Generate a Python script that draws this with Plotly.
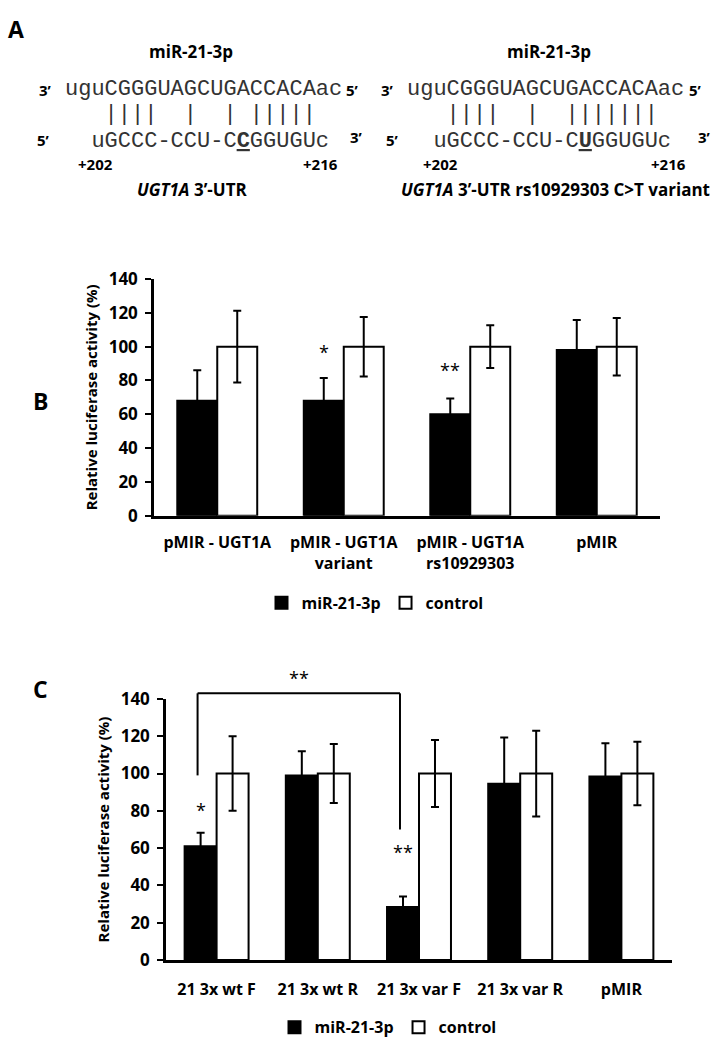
import plotly.graph_objects as go

W, H = 718, 1050

# ---------------- data ----------------
cats_B = ["pMIR - UGT1A", "pMIR - UGT1A variant", "pMIR - UGT1A rs10929303", "pMIR"]
ticks_B = ["pMIR - UGT1A", "pMIR - UGT1A<br>variant", "pMIR - UGT1A<br>rs10929303", "pMIR"]
mir_B = [68, 68, 60, 98]
mir_B_err = [18, 13.5, 9.4, 17.8]
ctl_B = [100, 100, 100, 100]
ctl_B_err = [21.2, 17.6, 12.7, 17]

cats_C = ["21 3x wt F", "21 3x wt R", "21 3x var F", "21 3x var R", "pMIR"]
mir_C = [61, 99, 28.5, 94.5, 98.4]
mir_C_err = [7.2, 13, 5.6, 24.8, 17.8]
ctl_C = [100, 100, 100, 100, 100]
ctl_C_err = [20, 15.8, 18, 23, 17]

sig_B = {1: "*", 2: "**"}          # category index -> marker text (miR bars)
sig_B_y = {1: 97, 2: 86}
sig_C = {0: "*", 2: "**"}
sig_C_y = {0: 82, 2: 59.4}
bracket_C = (0, 2)                  # compared categories
bracket_C_levels = (143, 99, 70)    # top, left foot, right foot
bracket_C_text_y = 153

y_range = [0, 140]

FONT = "Open Sans"
MONO = "Liberation Mono"
BARGAP = 0.368


def px(x):
    return x / W


def py(y):
    return 1 - y / H


fig = go.Figure()

err_style = dict(type="data", visible=True, color="black", thickness=2, width=4)

fig.add_trace(go.Bar(x=cats_B, y=mir_B, name="miR-21-3p", marker=dict(color="black", line=dict(color="black", width=2)),
                     error_y=dict(array=mir_B_err, **err_style), xaxis="x", yaxis="y", legend="legend"))
fig.add_trace(go.Bar(x=cats_B, y=ctl_B, name="control", marker=dict(color="white", line=dict(color="black", width=2)),
                     error_y=dict(array=ctl_B_err, **err_style), xaxis="x", yaxis="y", legend="legend"))
fig.add_trace(go.Bar(x=cats_C, y=mir_C, name="miR-21-3p", marker=dict(color="black", line=dict(color="black", width=2)),
                     error_y=dict(array=mir_C_err, **err_style), xaxis="x2", yaxis="y2", legend="legend2"))
fig.add_trace(go.Bar(x=cats_C, y=ctl_C, name="control", marker=dict(color="white", line=dict(color="black", width=2)),
                     error_y=dict(array=ctl_C_err, **err_style), xaxis="x2", yaxis="y2", legend="legend2"))

ytickfont = dict(family=FONT, size=17, color="black", weight="bold")
xtickfont = dict(family=FONT, size=16, color="black", weight="bold")
titlefont = dict(family=FONT, size=15, color="black", weight="bold")

yax = dict(range=y_range, tick0=0, dtick=20, showline=True, linecolor="black", linewidth=2.5,
           ticks="outside", ticklen=6, tickwidth=2, tickcolor="black", showgrid=False, zeroline=False,
           tickfont=ytickfont, ticklabelstandoff=4,
           title=dict(text="Relative luciferase activity (%)", font=titlefont, standoff=8),
           fixedrange=True)
xax = dict(type="category", showline=True, linecolor="black", linewidth=3, ticks="", showgrid=False,
           tickfont=xtickfont, fixedrange=True)

legfont = dict(family=FONT, size=16, color="black", weight="bold")

fig.update_layout(
    width=W, height=H, margin=dict(l=0, r=0, t=0, b=0),
    paper_bgcolor="white", plot_bgcolor="white",
    barmode="group", bargap=BARGAP, bargroupgap=0,
    xaxis=dict(domain=[px(154), px(660)], anchor="y", tickvals=cats_B, ticktext=ticks_B,
               ticklabelstandoff=10, **xax),
    yaxis=dict(domain=[py(515), py(273)], anchor="x", **yax),
    xaxis2=dict(domain=[px(166), px(672)], anchor="y2", ticklabelstandoff=13, **xax),
    yaxis2=dict(domain=[py(969.3), py(702.3)], anchor="x2", **yax),
    legend=dict(orientation="h", x=px(375), xanchor="center", y=py(604), yanchor="middle",
                font=legfont, itemwidth=30, tracegroupgap=0),
    legend2=dict(orientation="h", x=px(388), xanchor="center", y=py(1038), yanchor="middle",
                 font=legfont, itemwidth=30, tracegroupgap=0),
    showlegend=True,
)

# offset of the miR bar centre within a category
off = -(1 - BARGAP) / 4
ymax = y_range[1]

ann = []
star_font = dict(family=FONT, size=18, color="black")
for i, t in sig_B.items():
    ann.append(dict(x=i + off, y=sig_B_y[i], xref="x", yref="y", text=t, showarrow=False, font=star_font,
                    yanchor="middle", yshift=0))
for i, t in sig_C.items():
    ann.append(dict(x=i + off, y=sig_C_y[i], xref="x2", yref="y2", text=t, showarrow=False, font=star_font,
                    yanchor="middle", yshift=-3))

# bracket in panel C (above the axis range, so positioned in axis-domain units)
top, lf, rf = bracket_C_levels
bx0 = bracket_C[0] + off - 0.03
bx1 = bracket_C[1] + off - 0.03
ann.append(dict(x=(bx0 + bx1) / 2, y=bracket_C_text_y / ymax, xref="x2", yref="y2 domain", text="**",
                showarrow=False, font=star_font, yanchor="middle", yshift=-3))
shapes = [
    dict(type="line", xref="x2", yref="y2 domain", x0=bx0, x1=bx1, y0=top / ymax, y1=top / ymax, line=dict(color="black", width=2)),
    dict(type="line", xref="x2", yref="y2 domain", x0=bx0, x1=bx0, y0=top / ymax, y1=lf / ymax, line=dict(color="black", width=2)),
    dict(type="line", xref="x2", yref="y2 domain", x0=bx1, x1=bx1, y0=top / ymax, y1=rf / ymax, line=dict(color="black", width=2)),
]

# panel letters
letter_font = dict(family=FONT, size=23, color="black", weight="bold")
ann.append(dict(x=px(6), y=py(17), xref="paper", yref="paper", text="A", xanchor="left", yanchor="middle", showarrow=False, font=letter_font))
ann.append(dict(x=px(31), y=py(398), xref="paper", yref="paper", text="B", xanchor="left", yanchor="middle", showarrow=False, font=letter_font))
ann.append(dict(x=px(31), y=py(692), xref="paper", yref="paper", text="C", xanchor="left", yanchor="middle", showarrow=False, font=letter_font))

# ---------------- panel A (sequence alignment) ----------------
NB = "\u00a0"
seq_top = "uguCGGGUAGCUGACCACAac"
pairs_wt = "   ||||  |  | |||||".replace(" ", NB)
pairs_var = "   ||||  |  |||||||".replace(" ", NB)
seq_bot_wt = (NB * 2) + "uGCCC-CCU-C<b><u>C</u></b>GGUGUc"
seq_bot_var = (NB * 2) + "uGCCC-CCU-C<b><u>U</u></b>GGUGUc"

seq_font = dict(family=MONO, size=22, color="#333333")
lab_font = dict(family=FONT, size=15, color="black", weight="bold")
head_font = dict(family=FONT, size=17, color="black", weight="bold")


def txt(x, y, s, font, xanchor="center"):
    ann.append(dict(x=px(x), y=py(y), xref="paper", yref="paper", text=s, xanchor=xanchor, yanchor="middle",
                    showarrow=False, font=font))


for (x0, head_x, prime_l_top, prime_r_top, prime_l_bot, prime_r_bot, p202, p216, cap_x, pairs, bot, cap) in [
    (63, 191, 45, 352, 43, 356, 95, 320, 192, pairs_wt, seq_bot_wt, "<i>UGT1A</i> 3’-UTR"),
    (404.5, 549, 388, 695, 393, 704, 440, 668, 555, pairs_var, seq_bot_var, "<i>UGT1A</i> 3’-UTR rs10929303 C&gt;T variant"),
]:
    txt(head_x, 40, "miR-21-3p", head_font)
    txt(prime_l_top, 80, "3’", lab_font)
    txt(prime_r_top, 80, "5’", lab_font)
    txt(x0, 79, seq_top, seq_font, "left")
    txt(x0, 105, pairs, seq_font, "left")
    txt(x0, 132, bot, seq_font, "left")
    txt(prime_l_bot, 131, "5’", lab_font)
    txt(prime_r_bot, 128, "3’", lab_font)
    txt(p202, 155, "+202", lab_font)
    txt(p216, 155, "+216", lab_font)
    txt(cap_x, 181, cap, head_font)

fig.update_layout(annotations=ann, shapes=shapes)

fig.write_html("out.html", config={"displayModeBar": False},
               post_script="document.body.style.margin='0';document.body.style.padding='0';")
